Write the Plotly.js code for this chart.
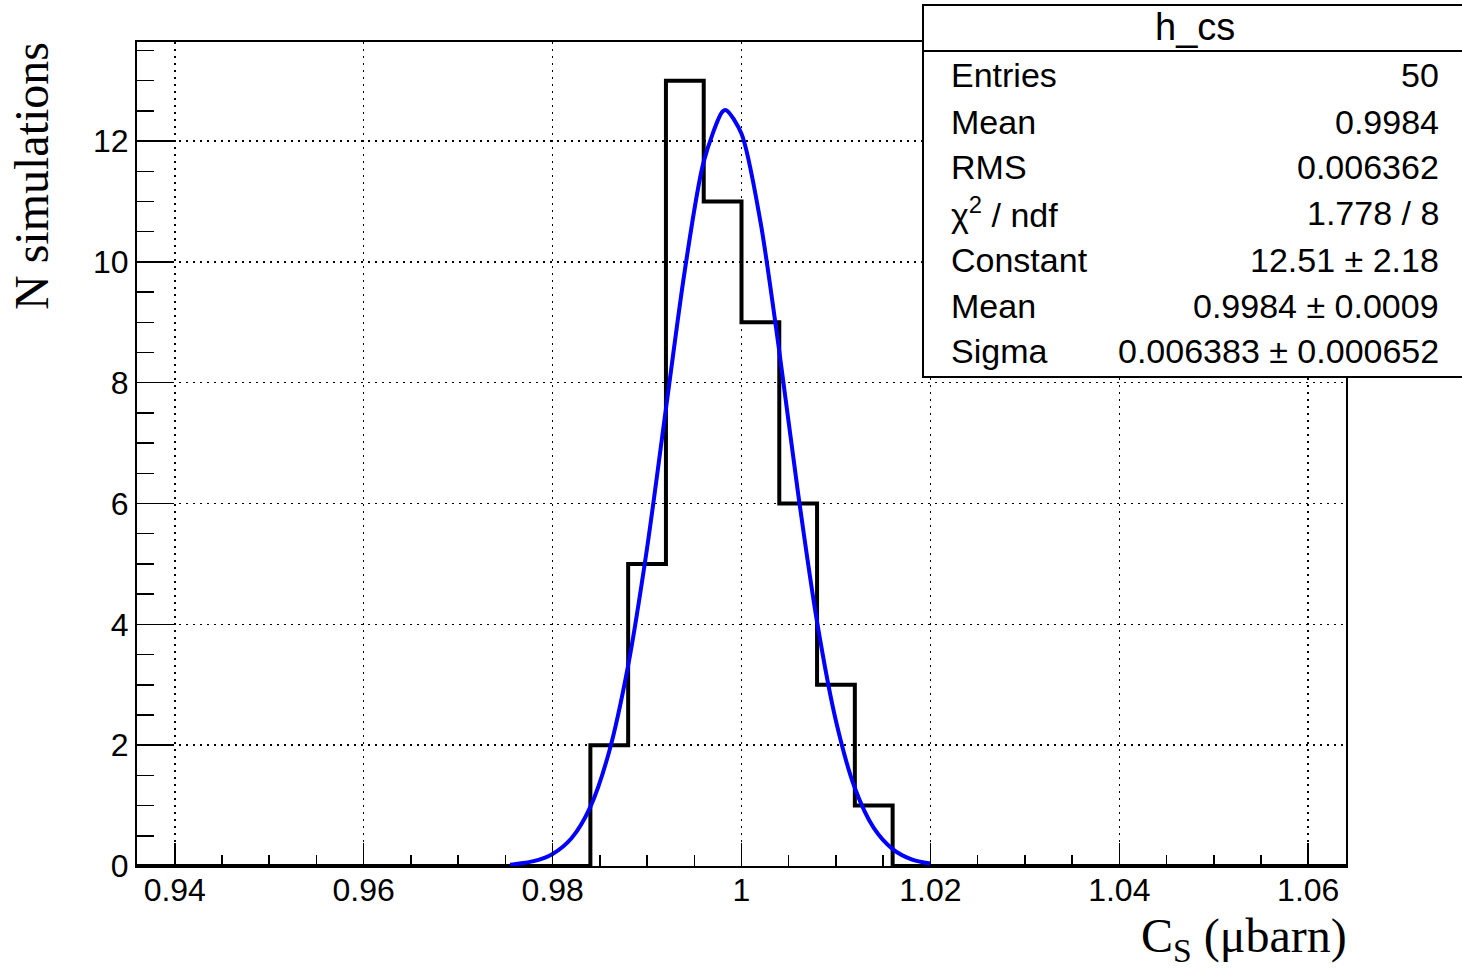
<!DOCTYPE html>
<html>
<head>
<meta charset="utf-8">
<script src="https://cdn.plot.ly/plotly-3.0.1.min.js"></script>
<style>html,body{margin:0;padding:0;background:#fff;}</style>
</head>
<body>
<div id="chart" style="width:1462px;height:968px;"></div>
<script>
// Histogram h_cs: bin edges (width 0.004) and counts per bin
const binEdges = [0.936, 0.940, 0.944, 0.948, 0.952, 0.956, 0.960, 0.964, 0.968, 0.972, 0.976,
                  0.980, 0.984, 0.988, 0.992, 0.996, 1.000, 1.004, 1.008, 1.012, 1.016,
                  1.020, 1.024, 1.028, 1.032, 1.036, 1.040, 1.044, 1.048, 1.052, 1.056, 1.060, 1.064];
const binCounts = [0, 0, 0, 0, 0, 0, 0, 0, 0, 0, 0,
                   0, 2, 5, 13, 11, 9, 6, 3, 1,
                   0, 0, 0, 0, 0, 0, 0, 0, 0, 0, 0, 0];

// Gaussian fit curve
const fitX = [0.9755, 0.976, 0.978, 0.980, 0.982, 0.984, 0.986, 0.988, 0.990, 0.992, 0.994, 0.996,
              0.998, 0.9984, 1.000, 1.002, 1.004, 1.006, 1.008, 1.010, 1.012, 1.014, 1.016, 1.018, 1.020];
const fitY = [0.02, 0.03, 0.08, 0.20, 0.46, 0.98, 1.90, 3.32, 5.26, 7.57, 9.86, 11.66,
              12.49, 12.51, 12.12, 10.67, 8.52, 6.16, 4.04, 2.40, 1.29, 0.63, 0.28, 0.11, 0.04];

// Axis ticks
const xTickVals = [0.94, 0.96, 0.98, 1.00, 1.02, 1.04, 1.06];
const xTickText = ["0.94", "0.96", "0.98", "1", "1.02", "1.04", "1.06"];
const yTickVals = [0, 2, 4, 6, 8, 10, 12];
const yTickText = ["0", "2", "4", "6", "8", "10", "12"];

// Stats box
const statsTitle = "h_cs";
const statsLabels = ["Entries", "Mean", "RMS", "χ<sup>2</sup> / ndf", "Constant", "Mean", "Sigma"];
const statsValues = ["50", "0.9984", "0.006362", "1.778 / 8", "12.51 ± 2.18", "0.9984 ± 0.0009", "0.006383 ± 0.000652"];

const xTitle = "C<sub>S</sub> (μbarn)";
const yTitle = "N simulations";

// Build step outline from bin edges
const histY = binCounts.concat([binCounts[binCounts.length - 1]]);

const traces = [
  {
    type: "scatter", mode: "lines",
    x: binEdges, y: histY,
    line: {shape: "hv", color: "#000000", width: 4},
    hoverinfo: "skip", showlegend: false
  },
  {
    type: "scatter", mode: "lines",
    x: fitX, y: fitY,
    line: {shape: "spline", smoothing: 0.8, color: "#0000ff", width: 4},
    hoverinfo: "skip", showlegend: false
  }
];

const W = 1462, H = 968;
const mL = 137, mR = 116, mT = 42, mB = 102;
const pw = W - mL - mR, ph = H - mT - mB;
const px = v => (v - mL) / pw;
const py = v => (H - mB - v) / ph;

const sansFont = "Liberation Sans, Arial, Helvetica, sans-serif";
const serifFont = "Liberation Serif, Times New Roman, serif";

const rowY = [73, 120, 165, 211, 258, 304, 349];
const annotations = [];
annotations.push({
  xref: "paper", yref: "paper", x: px(1195), y: py(27), xanchor: "center", yanchor: "middle",
  text: statsTitle, showarrow: false, font: {family: sansFont, size: 38, color: "#000"}
});
for (let i = 0; i < statsLabels.length; i++) {
  annotations.push({
    xref: "paper", yref: "paper", x: px(949), y: py(rowY[i] + 2), xanchor: "left", yanchor: "middle",
    text: statsLabels[i], showarrow: false, font: {family: sansFont, size: 34, color: "#000"}
  });
  annotations.push({
    xref: "paper", yref: "paper", x: px(1441), y: py(rowY[i] + 2), xanchor: "right", yanchor: "middle",
    text: statsValues[i], showarrow: false, font: {family: sansFont, size: 34, color: "#000"}
  });
}
annotations.push({
  xref: "paper", yref: "paper", x: px(32), y: py(40), xanchor: "center", yanchor: "top",
  text: yTitle, textangle: -90, showarrow: false, font: {family: serifFont, size: 48, color: "#000"}
});
annotations.push({
  xref: "paper", yref: "paper", x: px(1349), y: py(939), xanchor: "right", yanchor: "middle",
  text: xTitle, showarrow: false, font: {family: serifFont, size: 48, color: "#000"}
});

const shapes = [
  {type: "rect", xref: "paper", yref: "paper", x0: px(923), x1: px(1475), y0: py(377), y1: py(5),
   line: {color: "#000", width: 2}, fillcolor: "#ffffff", layer: "above"},
  {type: "line", xref: "paper", yref: "paper", x0: px(923), x1: px(1475), y0: py(51), y1: py(51),
   line: {color: "#000", width: 2}, layer: "above"}
];

const layout = {
  width: W, height: H,
  margin: {l: mL, r: mR, t: mT, b: mB, pad: 0},
  paper_bgcolor: "#ffffff", plot_bgcolor: "#ffffff",
  showlegend: false, hovermode: false,
  font: {family: sansFont, size: 31, color: "#000"},
  xaxis: {
    range: [0.936, 1.064], tickmode: "array", tickvals: xTickVals, ticktext: xTickText,
    ticks: "inside", ticklen: 23, tickwidth: 1.5, tickcolor: "#000",
    showline: true, linecolor: "#000", linewidth: 2, mirror: true,
    showgrid: true, gridcolor: "#000", gridwidth: 1.5, griddash: "2px,5px",
    zeroline: false, tickfont: {family: sansFont, size: 32, color: "#000"},
    ticklabelstandoff: -5,
    minor: {tickmode: "linear", tick0: 0.94, dtick: 0.005, ticks: "inside", ticklen: 11, tickwidth: 1.5, tickcolor: "#000", showgrid: false}
  },
  yaxis: {
    range: [0, 13.64], tickmode: "array", tickvals: yTickVals, ticktext: yTickText,
    ticks: "inside", ticklen: 35, tickwidth: 1.5, tickcolor: "#000",
    showline: true, linecolor: "#000", linewidth: 2, mirror: true,
    showgrid: true, gridcolor: "#000", gridwidth: 1.5, griddash: "2px,5px",
    zeroline: false, tickfont: {family: sansFont, size: 32, color: "#000"},
    minor: {tickmode: "linear", tick0: 0, dtick: 0.5, ticks: "inside", ticklen: 17, tickwidth: 1.5, tickcolor: "#000", showgrid: false}
  },
  shapes: shapes,
  annotations: annotations
};

Plotly.newPlot("chart", traces, layout, {displayModeBar: false, staticPlot: true});
</script>
</body>
</html>
